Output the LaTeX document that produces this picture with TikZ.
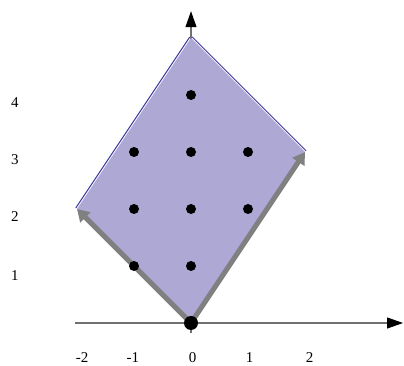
\documentclass[tikz,border=0pt]{standalone}
\usepackage{fontspec}
\setmainfont{Liberation Serif}
\usetikzlibrary{arrows.meta}
\definecolor{fillc}{HTML}{ADA8D4}
\definecolor{edgec}{HTML}{3A38A0}
\definecolor{axisc}{HTML}{707070}
\definecolor{arrc}{HTML}{808080}
\tikzset{
  axisline/.style={draw=axisc, line width=1.1pt, -{Triangle[length=16pt,width=11pt,color=black]}},
  vecarrow/.style={draw=arrc, line width=5pt, -{Triangle[length=12pt,width=14pt]}},
  latticept/.style={circle, fill=black, inner sep=0pt, minimum size=10pt},
  lbl/.style={font=\fontsize{15}{17}\selectfont, inner sep=0pt}
}
\begin{document}
\begin{tikzpicture}
\useasboundingbox (0,0) rectangle (404pt,366pt);
\begin{scope}[shift={(191pt,43pt)}, x=57pt, y=57pt]
  \coordinate (O) at (0,0);
  \coordinate (A) at (2,3);
  \coordinate (B) at (-2,2);
  \coordinate (T) at (0,5);
  % axes
  \coordinate (xs) at (-2.03,0);
  \coordinate (xe) at (3.72,0);
  \coordinate (ys) at (0,-0.18);
  \coordinate (ye) at (0,5.47);
  \draw[axisline] (xs) -- (xe);
  \draw[axisline] (ys) -- (ye);
  % region
  \fill[fillc] (O) -- (A) -- (T) -- (B) -- cycle;
  % top edges, slightly outward
  \draw[edgec, line width=1pt] ([shift={(-1.3pt,0.9pt)}]B) -- ([shift={(-1.3pt,0.9pt)}]T);
  \draw[edgec, line width=1pt] ([shift={(1.1pt,1.1pt)}]T) -- ([shift={(1.1pt,1.1pt)}]A);
  % vectors
  \draw[vecarrow] (O) -- (A);
  \draw[vecarrow] (O) -- (B);
  % lattice points
  \node[latticept, minimum size=14pt] (p00) at (0,0) {};
  \node[latticept] (pm11) at (-1,1) {};
  \node[latticept] (p01) at (0,1) {};
  \node[latticept] (pm12) at (-1,2) {};
  \node[latticept] (p02) at (0,2) {};
  \node[latticept] (p12) at (1,2) {};
  \node[latticept] (pm13) at (-1,3) {};
  \node[latticept] (p03) at (0,3) {};
  \node[latticept] (p13) at (1,3) {};
  \node[latticept] (p04) at (0,4) {};
  % labels
  \node[lbl] (lxm2) at (-1.91,-0.60) {-2};
  \node[lbl] (lxm1) at (-1.02,-0.60) {-1};
  \node[lbl] (lx0) at (0.03,-0.60) {0};
  \node[lbl] (lx1) at (1.03,-0.60) {1};
  \node[lbl] (lx2) at (2.08,-0.60) {2};
  \node[lbl] (ly1) at (-3.09,0.84) {1};
  \node[lbl] (ly2) at (-3.09,1.86) {2};
  \node[lbl] (ly3) at (-3.09,2.86) {3};
  \node[lbl] (ly4) at (-3.09,3.86) {4};
\end{scope}
\end{tikzpicture}
\end{document}
